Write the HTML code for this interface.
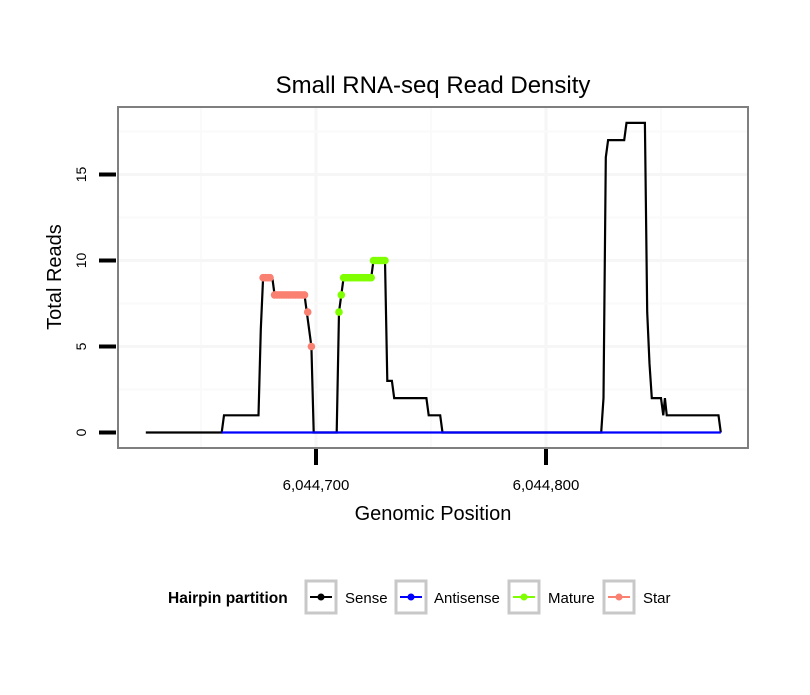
<!DOCTYPE html>
<html><head><meta charset="utf-8"><style>
body{margin:0;background:#fff;}
svg text{font-family:"Liberation Sans",sans-serif;}
</style></head><body>
<svg id="chart" width="810" height="690" xmlns="http://www.w3.org/2000/svg">
<rect x="0" y="0" width="810" height="690" fill="#fff"/>
<text x="433" y="93" font-size="24" text-anchor="middle">Small RNA-seq Read Density</text>
<g id="grid"></g>
<g id="series"></g>
<rect x="118" y="107" width="630" height="341" fill="none" stroke="#7f7f7f" stroke-width="2"/>
<g id="axes"></g>
<text x="433" y="520" font-size="20" text-anchor="middle">Genomic Position</text>
<text transform="translate(61,277) rotate(-90)" font-size="20" text-anchor="middle">Total Reads</text>
<g>
<text x="168" y="603" font-size="15.5" font-weight="bold">Hairpin partition</text>
<g>
<rect x="306" y="581" width="30" height="32" fill="#fff" stroke="#c8c8c8" stroke-width="3"/>
<line x1="310" y1="597" x2="332" y2="597" stroke="#000" stroke-width="2"/><circle cx="321" cy="597" r="3.5" fill="#000"/>
<text x="345" y="603" font-size="15">Sense</text></g>
<g>
<rect x="396" y="581" width="30" height="32" fill="#fff" stroke="#c8c8c8" stroke-width="3"/>
<line x1="400" y1="597" x2="422" y2="597" stroke="#0000ff" stroke-width="2"/><circle cx="411" cy="597" r="3.5" fill="#0000ff"/>
<text x="434" y="603" font-size="15">Antisense</text></g>
<g>
<rect x="509" y="581" width="30" height="32" fill="#fff" stroke="#c8c8c8" stroke-width="3"/>
<line x1="513" y1="597" x2="535" y2="597" stroke="#7fff00" stroke-width="2"/><circle cx="524" cy="597" r="3.5" fill="#7fff00"/>
<text x="548" y="603" font-size="15">Mature</text></g>
<g>
<rect x="604" y="581" width="30" height="32" fill="#fff" stroke="#c8c8c8" stroke-width="3"/>
<line x1="608" y1="597" x2="630" y2="597" stroke="#fa8072" stroke-width="2"/><circle cx="619" cy="597" r="3.5" fill="#fa8072"/>
<text x="643" y="603" font-size="15">Star</text></g>
</g>
</svg>
<script>
const senseX=[626,659,660,675,676,677,681,682,695,696,698,699,709,710,711,712,724,725,730,731,733,734,748,749,754,755,824,825,826,827,834,835,843,844,845,846,850,851,851.7,852.5,875,876];
const senseY=[0,0,1,1,6,9,9,8,8,7,5,0,0,7,8,9,9,10,10,3,3,2,2,1,1,0,0,2,16,17,17,18,18,7,4,2,2,1,2,1,1,0];
const antiX=[659,876];
const antiY=[0,0];
const starX=[677,678,679,680,682,683,684,685,686,687,688,689,690,691,692,693,694,695,696.4,698];
const starY=[9,9,9,9,8,8,8,8,8,8,8,8,8,8,8,8,8,8,7,5];
const matureX=[710,711,712,713,714,715,716,717,718,719,720,721,722,723,724,725,726,727,728,729,730];
const matureY=[7,8,9,9,9,9,9,9,9,9,9,9,9,9,9,10,10,10,10,10,10];
const xTicks=[6044700,6044800];
const xTickLabels=["6,044,700","6,044,800"];
const yTicks=[0,5,10,15];
const base=6044000;
const NS="http://www.w3.org/2000/svg";
function sx(p){return 316+(p-700)*2.3;}
function sy(v){return 432.5-v*17.2;}
function mk(tag,attrs,parent){const e=document.createElementNS(NS,tag);for(const k in attrs)e.setAttribute(k,attrs[k]);parent.appendChild(e);return e;}
const grid=document.getElementById('grid'),ser=document.getElementById('series'),axes=document.getElementById('axes');
[650,700,750,800,850].forEach(p=>{const l=mk('line',{x1:sx(p),x2:sx(p),y1:108,y2:447,stroke:(p%100===0)?'#f6f6f6':'#fafafa','stroke-width':(p%100===0)?3:2},grid);

});
[2.5,5,7.5,10,12.5,15,17.5].forEach(v=>{const l=mk('line',{x1:119,x2:747,y1:sy(v),y2:sy(v),stroke:(v%5===0)?'#f6f6f6':'#fafafa','stroke-width':(v%5===0)?3:2},grid);

});
function line(xs,ys,color,name){const pts=xs.map((x,i)=>sx(x)+','+sy(ys[i])).join(' ');
const p=mk('polyline',{points:pts,fill:'none',stroke:color,'stroke-width':2.2,'stroke-linejoin':'miter'},ser);

}
function dots(xs,ys,color,name){xs.forEach((x,i)=>{const c=mk('circle',{cx:sx(x),cy:sy(ys[i]),r:3.8,fill:color},ser);

});}
line(senseX,senseY,'#000','sense-line');
line(antiX,antiY,'#0000ff','antisense-line');
dots(starX,starY,'#fa8072','star-point');
dots(matureX,matureY,'#7fff00','mature-point');
xTicks.forEach((t,i)=>{const x=sx(t-base);
const l=mk('line',{x1:x,x2:x,y1:449,y2:465,stroke:'#000','stroke-width':4},axes);


const tx=mk('text',{x:x,y:490,'font-size':15,'text-anchor':'middle'},axes);tx.textContent=xTickLabels[i];

});
yTicks.forEach(v=>{const y=sy(v);
const l=mk('line',{x1:99,x2:116,y1:y,y2:y,stroke:'#000','stroke-width':4},axes);


const tx=mk('text',{transform:'translate(86,'+y+') rotate(-90)','font-size':14,'text-anchor':'middle'},axes);tx.textContent=String(v);

});
</script>
</body></html>
